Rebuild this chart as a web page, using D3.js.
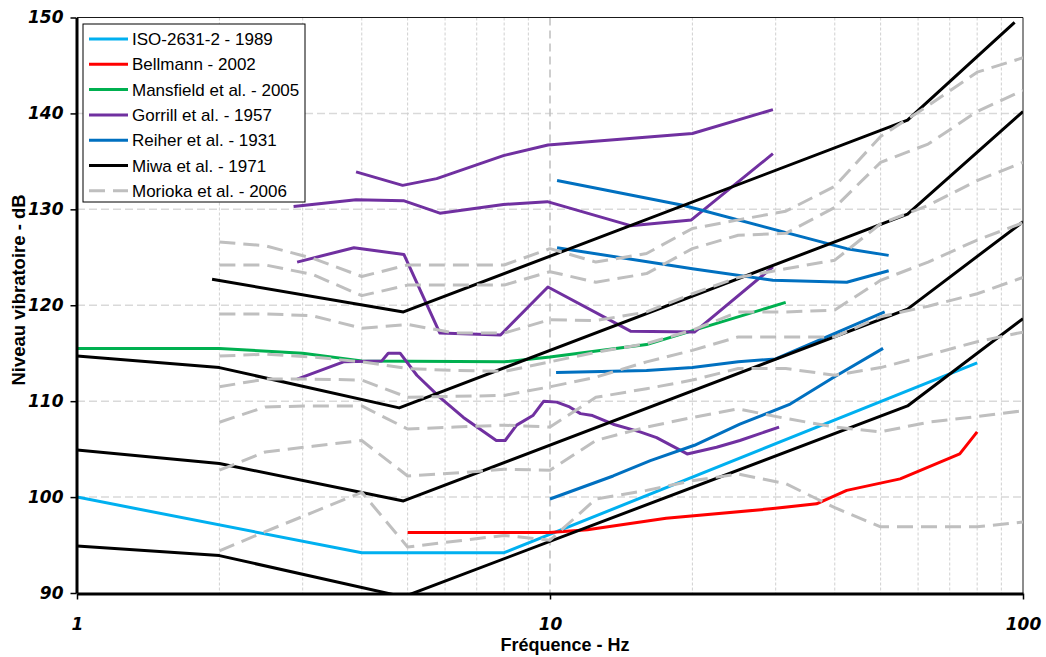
<!DOCTYPE html>
<html><head><meta charset="utf-8">
<script src="https://cdn.jsdelivr.net/npm/d3@7"></script>
<style>body{margin:0;background:#fff}svg{display:block}</style>
</head><body>
<svg id="chart" width="1046" height="657"></svg>
<script>
// ---------------- DATA ----------------
const xTickValues = [1, 10, 100];
const yTickValues = [90, 100, 110, 120, 130, 140, 150];
const minorFreqs = [2, 3, 4, 5, 6, 7, 8, 9, 20, 30, 40, 50, 60, 70, 80, 90];
const majorFreqs = [10];
const hGridValues = [100, 110, 120, 130, 140];

const legendNames = ["ISO-2631-2 - 1989", "Bellmann - 2002", "Mansfield et al. - 2005",
  "Gorrill et al. - 1957", "Reiher et al. - 1931", "Miwa et al. - 1971", "Morioka et al. - 2006"];

// ISO-2631-2 - 1989  [Hz, dB]
const iso = [[1, 100], [4, 94.2], [8, 94.2], [80, 114.0]];
// Bellmann - 2002
const bellmann = [[5, 96.3], [10, 96.3], [12, 96.6], [17.6, 97.8], [29.6, 98.8], [36.6, 99.3],
  [42.4, 100.7], [55, 101.9], [73.5, 104.5], [80, 106.8]];
// Mansfield et al. - 2005
const mansfield = [[1, 115.5], [2, 115.5], [3, 115.0], [4, 114.2], [8, 114.1], [10, 114.6],
  [16, 115.9], [31.5, 120.3]];
// Gorrill et al. - 1957 (4 curves)
const gorrill1 = [[3.89, 133.9], [4.88, 132.5], [5.76, 133.2], [7.97, 135.6], [9.9, 136.7],
  [20, 137.9], [29.6, 140.4]];
const gorrill2 = [[2.87, 130.3], [3.89, 131.0], [4.9, 130.9], [5.85, 129.6], [7.97, 130.5],
  [9.87, 130.8], [14.8, 128.3], [19.9, 128.9], [29.6, 135.8]];
const gorrill3 = [[2.92, 124.5], [3.85, 126.0], [4.91, 125.3], [5.85, 117.1], [7.86, 116.9],
  [9.9, 121.9], [14.8, 117.3], [20.2, 117.2], [29.6, 124.0]];
const gorrill4 = [[2.92, 112.3], [3.66, 114.1], [4.41, 114.2], [4.55, 115.0], [4.82, 115.0],
  [5.23, 112.7], [5.85, 110.4], [6.56, 108.3], [7.7, 105.9], [8.04, 105.9], [8.5, 107.5],
  [9.2, 108.5], [9.7, 110.0], [10.33, 109.9], [11.0, 109.4], [11.6, 108.7], [12.3, 108.5],
  [13.6, 107.6], [15.5, 106.8], [16.8, 106.2], [19.5, 104.5], [22.5, 105.2], [25.2, 105.9],
  [30.5, 107.3]];
// Reiher et al. - 1931 (4 curves)
const reiher1 = [[10.35, 133.0], [19.2, 130.4], [42.4, 125.9], [52, 125.2]];
const reiher2 = [[10.35, 126.0], [20, 123.8], [29.6, 122.6], [42.4, 122.4], [52, 123.6]];
const reiher3 = [[10.3, 113.0], [16, 113.2], [20, 113.5], [25, 114.1], [30, 114.4], [51, 119.3]];
const reiher4 = [[10, 99.8], [13.6, 102.2], [16.3, 103.8], [20.2, 105.4], [25.2, 107.6],
  [32.2, 109.7], [39.8, 112.5], [50.6, 115.5]];
// Miwa et al. - 1971 (4 curves)
const miwa1 = [[1.93, 122.7], [4.9, 119.3], [57, 139.3], [96, 149.5]];
const miwa2 = [[1, 114.7], [2, 113.5], [4.8, 109.3], [57, 129.5], [100, 140.2]];
const miwa3 = [[1, 104.9], [2, 103.5], [4.9, 99.6], [57, 119.6], [100, 128.7]];
const miwa4 = [[1, 94.9], [2, 93.9], [4.9, 89.6], [57, 109.5], [100, 118.6]];
// Morioka et al. - 2006 (8 curves, 1/3 octave bands)
const moriokaFreq = [2, 2.5, 3.15, 4, 5, 6.3, 8, 10, 12.5, 16, 20, 25, 31.5, 40, 50, 63, 80, 100];
const moriokaA = [126.6, 126.2, 124.9, 123.0, 124.2, 124.2, 124.2, 125.9, 124.5, 125.4, 128.0, 128.9, 129.8, 132.4, 137.6, 140.8, 144.3, 145.8];
const moriokaB = [124.2, 124.2, 123.2, 121.0, 122.1, 122.1, 122.1, 123.5, 122.4, 123.3, 125.9, 127.3, 127.5, 130.2, 134.9, 136.8, 140.2, 142.4];
const moriokaC = [119.1, 119.1, 118.9, 117.6, 118.0, 117.1, 117.1, 118.5, 118.4, 119.3, 121.2, 122.9, 123.8, 124.7, 128.5, 130.4, 133.0, 134.9];
const moriokaD = [114.7, 114.9, 114.6, 114.1, 113.4, 113.2, 113.1, 114.1, 115.1, 116.0, 117.4, 119.3, 119.3, 119.5, 122.6, 124.5, 126.8, 128.6];
const moriokaE = [111.5, 112.3, 112.3, 112.2, 110.4, 110.5, 110.6, 111.5, 112.5, 114.1, 115.3, 116.7, 116.7, 116.7, 118.8, 119.9, 121.2, 122.9];
const moriokaF = [107.8, 109.4, 109.5, 109.5, 107.1, 107.3, 107.5, 107.3, 110.4, 111.3, 112.2, 113.4, 113.4, 112.7, 113.5, 114.8, 116.2, 117.2];
const moriokaG = [102.8, 104.7, 105.3, 105.9, 102.2, 102.5, 102.9, 102.8, 105.9, 107.3, 108.3, 109.2, 108.2, 107.3, 106.8, 107.8, 108.4, 109.0];
const moriokaH = [94.4, 96.4, 98.4, 100.5, 94.8, 95.4, 96.0, 95.5, 99.8, 100.7, 101.7, 102.4, 101.4, 98.9, 96.9, 96.9, 96.9, 97.4];

// ---------------- CHART ----------------
const W = 1046, H = 657;
const P = {left: 77, right: 1023, top: 17.5, bottom: 593};
const x = d3.scaleLog().domain([1, 100]).range([P.left, P.right]);
const y = d3.scaleLinear().domain([90, 150]).range([P.bottom, P.top]);

const COLORS = {iso: "#00B0F0", bell: "#FF0000", mans: "#00B050", gor: "#7030A0",
  rei: "#0070C0", miwa: "#000000", mor: "#BFBFBF"};

const svg = d3.select("#chart");
svg.append("rect").attr("width", W).attr("height", H).attr("fill", "#fff");

// grid
const grid = svg.append("g");
grid.selectAll("line.hg").data(hGridValues).join("line").attr("class", "hg")
  .attr("x1", P.left).attr("x2", P.right).attr("y1", d => y(d)).attr("y2", d => y(d))
  .attr("stroke", "#D9D9D9").attr("stroke-width", 1.5).attr("stroke-dasharray", "8,4");
grid.selectAll("line.mg").data(minorFreqs).join("line").attr("class", "mg")
  .attr("x1", d => x(d)).attr("x2", d => x(d)).attr("y1", P.top).attr("y2", P.bottom)
  .attr("stroke", "#D0D0D0").attr("stroke-width", 1).attr("stroke-dasharray", "3,2");
grid.selectAll("line.Mg").data(majorFreqs).join("line").attr("class", "Mg")
  .attr("x1", d => x(d)).attr("x2", d => x(d)).attr("y1", P.top).attr("y2", P.bottom)
  .attr("stroke", "#BFBFBF").attr("stroke-width", 1.5).attr("stroke-dasharray", "8,5");

// plot border (top/right)
svg.append("path").attr("d", `M${P.left},${P.top}H${P.right}V${P.bottom}`)
  .attr("fill", "none").attr("stroke", "#1a1a1a").attr("stroke-width", 1);

// clip
svg.append("clipPath").attr("id", "clip").append("rect")
  .attr("x", P.left).attr("y", P.top).attr("width", P.right - P.left).attr("height", P.bottom - P.top);

const line = d3.line().x(d => x(d[0])).y(d => y(d[1]));
const plot = svg.append("g").attr("clip-path", "url(#clip)");

function draw(data, color, dashed) {
  plot.append("path").datum(data).attr("d", line).attr("fill", "none")
    .attr("stroke", color).attr("stroke-width", 3)
    .attr("stroke-linejoin", "round")
    .attr("stroke-dasharray", dashed ? "16,8" : null);
}

draw(iso, COLORS.iso);
draw(bellmann, COLORS.bell);
draw(mansfield, COLORS.mans);
[gorrill1, gorrill2, gorrill3, gorrill4].forEach(d => draw(d, COLORS.gor));
[reiher1, reiher2, reiher3, reiher4].forEach(d => draw(d, COLORS.rei));
[miwa1, miwa2, miwa3, miwa4].forEach(d => draw(d, COLORS.miwa));
[moriokaA, moriokaB, moriokaC, moriokaD, moriokaE, moriokaF, moriokaG, moriokaH]
  .forEach(vals => draw(moriokaFreq.map((f, i) => [f, vals[i]]), COLORS.mor, true));

// axes
const tickFont = "'DejaVu Sans', sans-serif";
const yAxis = svg.append("g").attr("transform", `translate(${P.left - 0.5},0)`)
  .call(d3.axisLeft(y).tickValues(yTickValues).tickSize(6).tickSizeOuter(0).tickPadding(7).tickFormat(d3.format("d")));
yAxis.select(".domain").attr("stroke", "#000").attr("stroke-width", 3);
yAxis.selectAll(".tick line").attr("stroke", "#000").attr("stroke-width", 1.5);
yAxis.selectAll(".tick text").attr("font-family", tickFont).attr("font-size", 17)
  .attr("font-weight", "bold").attr("font-style", "italic").attr("fill", "#000");

const xAxis = svg.append("g").attr("transform", `translate(0,${P.bottom + 0.5})`)
  .call(d3.axisBottom(x).tickValues(xTickValues).tickSize(6).tickSizeOuter(0).tickPadding(18).tickFormat(d3.format("d")));
xAxis.select(".domain").attr("stroke", "#000").attr("stroke-width", 3);
xAxis.selectAll(".tick line").attr("stroke", "#000").attr("stroke-width", 1.5);
xAxis.selectAll(".tick text").attr("font-family", tickFont).attr("font-size", 17)
  .attr("font-weight", "bold").attr("font-style", "italic").attr("fill", "#000");

// axis titles
svg.append("text").attr("x", 565).attr("y", 651).attr("text-anchor", "middle")
  .attr("font-family", "'Liberation Sans', Arial, sans-serif").attr("font-weight", "bold")
  .attr("font-size", 18).text("Fréquence - Hz");
svg.append("text").attr("transform", "translate(25,290) rotate(-90)").attr("text-anchor", "middle")
  .attr("font-family", "'Liberation Sans', Arial, sans-serif").attr("font-weight", "bold")
  .attr("font-size", 18.5).text("Niveau vibratoire - dB");

// legend
const legendColors = [COLORS.iso, COLORS.bell, COLORS.mans, COLORS.gor, COLORS.rei, COLORS.miwa, COLORS.mor];
const lg = svg.append("g");
lg.append("rect").attr("x", 83).attr("y", 24).attr("width", 222).attr("height", 178)
  .attr("fill", "#fff").attr("stroke", "#000").attr("stroke-width", 1);
const items = lg.selectAll("g.item").data(legendNames).join("g").attr("class", "item")
  .attr("transform", (d, i) => `translate(0,${39 + i * 25.3})`);
items.append("line").attr("x1", 89).attr("x2", 128).attr("y1", 0).attr("y2", 0)
  .attr("stroke", (d, i) => legendColors[i]).attr("stroke-width", 3)
  .attr("stroke-dasharray", (d, i) => i === 6 ? "16,8" : null);
items.append("text").attr("x", 132).attr("y", 0).attr("dy", "0.36em")
  .attr("font-family", "'Liberation Sans', Arial, sans-serif").attr("font-size", 17)
  .attr("fill", "#000").text(d => d);
</script>
</body></html>
